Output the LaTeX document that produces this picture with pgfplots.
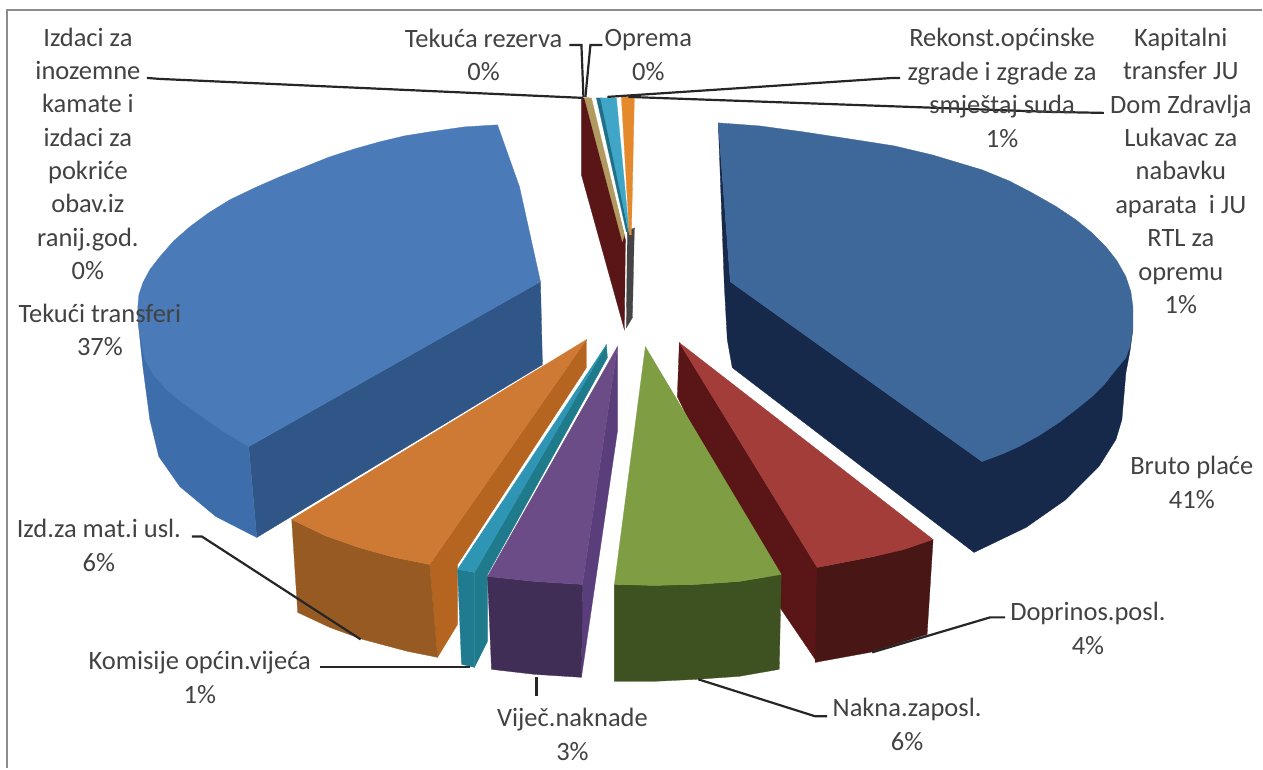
\documentclass[border=0pt]{standalone}
\usepackage{pgfplots}
\pgfplotsset{compat=1.18}
\usepackage{fontspec}
\setmainfont{Carlito}
\definecolor{txt}{HTML}{424242}
\definecolor{bruW}{HTML}{17294A}
\definecolor{bruT}{HTML}{3E6899}
\definecolor{tekI}{HTML}{2F5686}
\definecolor{tekO}{HTML}{3D6DAA}
\definecolor{tekT}{HTML}{4A7BB8}
\definecolor{redI}{HTML}{5A1616}
\definecolor{redF}{HTML}{481614}
\definecolor{redT}{HTML}{A23D3A}
\definecolor{grnF}{HTML}{3D5220}
\definecolor{grnT}{HTML}{7F9E44}
\definecolor{purI}{HTML}{5A3E7C}
\definecolor{purF}{HTML}{412E56}
\definecolor{purT}{HTML}{6B4C87}
\definecolor{teaI}{HTML}{1F7B8C}
\definecolor{teaF}{HTML}{207A90}
\definecolor{teaT}{HTML}{2F95B5}
\definecolor{orgI}{HTML}{B5651F}
\definecolor{orgF}{HTML}{975A22}
\definecolor{orgT}{HTML}{CE7A34}
\definecolor{tan}{HTML}{B09A60}
\definecolor{gry}{HTML}{444444}
\definecolor{cyaD}{HTML}{1F6F86}
\definecolor{cya}{HTML}{3FA6C8}
\definecolor{org}{HTML}{E58A2C}
\newcommand{\lab}[3]{\node[align=center,text=txt,inner sep=0pt,font=\fontsize{26.5}{33.4}\selectfont] at (axis cs:#1,#2) {#3};}
\pgfplotsset{
  face/.style={fill=#1,draw=#1,line width=0.3pt,forget plot},
  lead/.style={draw=black!85,line width=2.2pt,no markers,forget plot}
}
\begin{document}
\begin{tikzpicture}
\begin{axis}[
  scale only axis,width=1263pt,height=769pt,
  xmin=0,xmax=1263,ymin=0,ymax=769,y dir=reverse,
  hide axis,clip=false,no markers]
% page extent
\addplot[draw=none,forget plot] coordinates {(0,0) (1263,0) (1263,769) (0,769)};
% frame
\addplot[draw=black!45,line width=2.5pt,forget plot] coordinates {(7,769) (7,10) (1263,10)};
% Bruto place: walls then top
\addplot[face=bruW] coordinates {(719,123) (725,285) (728,340) (733,368) (975,553) (1027,528) (1067,500) (1100,467) (1117,440) (1123,420) (1127,373) (1131,352) (1134,330) (983,462) (731,282)} -- cycle;
\addplot[face=bruT] coordinates {(719,123) (760,126) (804,132) (850,139) (895,146) (933,155) (983,170) (1010,181) (1033,193) (1056,206) (1077,220) (1093,233) (1107,247) (1118,261) (1127,277) (1132,292) (1134,307) (1134,330) (1131,347) (1127,358) (1117,370) (1106,384) (1093,397) (1077,410) (1060,423) (1040,436) (1020,447) (1002,455) (983,462) (731,282)} -- cycle;
% Tekuci transferi
\addplot[face=tekI] coordinates {(249,447) (541,282) (543,365) (257,538)} -- cycle;
\addplot[face=tekO] coordinates {(138,320) (143,367) (150,420) (159,457) (180,487) (216,517) (257,538) (249,447) (197,413) (167,390)} -- cycle;
\addplot[face=tekT] coordinates {(498,125) (465,127) (430,132) (405,136) (380,142) (355,149) (330,157) (305,167) (280,177) (255,188) (230,200) (209,213) (190,227) (174,241) (160,257) (150,270) (143,283) (139,295) (138,307) (138,320) (140,333) (145,360) (154,376) (167,390) (181,402) (197,413) (222,431) (249,447) (541,282) (520,187)} -- cycle;
% Doprinos (dark red) goes below green
\addplot[face=redI] coordinates {(680,343) (818,568) (818,663) (782,610) (678,397)} -- cycle;
\addplot[face=redF] coordinates {(818,568) (875,557) (934,540) (928,635) (871,653) (816,663)} -- cycle;
\addplot[face=redT] coordinates {(680,343) (934,540) (905,550) (875,557) (818,568)} -- cycle;
% Green
\addplot[face=grnF] coordinates {(615,585) (655,586) (697,585) (740,582) (782,575) (780,670) (740,677) (697,680) (655,682) (615,682)} -- cycle;
\addplot[face=grnT] coordinates {(646,347) (782,575) (740,582) (697,585) (655,586) (615,585)} -- cycle;
% Orange
\addplot[face=orgI] coordinates {(430,565) (587,340) (587,368) (458,565) (458,625) (438,658)} -- cycle;
\addplot[face=orgF] coordinates {(292,520) (325,536) (359,548) (395,558) (430,565) (438,658) (408,652) (363,640) (330,628) (298,613)} -- cycle;
\addplot[face=orgT] coordinates {(587,340) (430,565) (395,558) (359,548) (325,536) (292,520)} -- cycle;
% Teal
\addplot[face=teaI] coordinates {(475,573) (607,345) (608,358) (488,575) (488,642) (475,668)} -- cycle;
\addplot[face=teaF] coordinates {(458,570) (475,573) (475,668) (462,665)} -- cycle;
\addplot[face=teaT] coordinates {(607,345) (475,573) (458,570)} -- cycle;
% Purple
\addplot[face=purI] coordinates {(618,347) (618,432) (582,678) (583,585)} -- cycle;
\addplot[face=purF] coordinates {(488,577) (535,582) (583,585) (582,678) (535,675) (492,670)} -- cycle;
\addplot[face=purT] coordinates {(618,347) (583,585) (535,582) (488,577)} -- cycle;
% Small slices at the top
\addplot[face=redI] coordinates {(582,98) (582,175) (625,330) (626,240) (590,98)} -- cycle;
\addplot[face=tan] coordinates {(585,98) (592,98) (625,235) (623,242)} -- cycle;
\addplot[face=gry] coordinates {(628,232) (635,228) (633,318) (627,328)} -- cycle;
\addplot[face=cyaD] coordinates {(597,98) (603,98) (629,232) (627,232)} -- cycle;
\addplot[face=cya] coordinates {(601,98) (617,98) (630,235)} -- cycle;
\addplot[face=org] coordinates {(622,97) (635,97) (632,235) (630,235)} -- cycle;
% leader lines
\addplot[lead] coordinates {(147,78) (160,79) (584,98)};
\addplot[lead] coordinates {(570,45) (582,45) (584,97)};
\addplot[lead] coordinates {(603,45) (591,45) (586,97)};
\addplot[lead] coordinates {(901,78) (894,78) (608,97)};
\addplot[lead] coordinates {(1105,113) (1051,112) (629,97)};
\addplot[lead] coordinates {(192,537) (202,537) (361,640)};
\addplot[lead] coordinates {(320,668) (470,668)};
\addplot[lead] coordinates {(537,678) (537,697)};
\addplot[lead] coordinates {(699,680) (816,717) (828,717)};
\addplot[lead] coordinates {(873,653) (991,618) (1006,618)};
% labels
\lab{88}{154}{Izdaci za\\inozemne\\kamate i\\izdaci za\\pokriće\\obav.iz\\ranij.god.\\0\%}
\lab{100}{330}{Tekući transferi\\37\%}
\lab{484}{55}{Tekuća rezerva\\0\%}
\lab{649}{55}{Oprema\\0\%}
\lab{1003}{88}{Rekonst.općinske\\zgrade i zgrade za\\smještaj suda\\1\%}
\lab{1182}{171}{Kapitalni\\transfer JU\\Dom Zdravlja\\Lukavac za\\nabavku\\aparata\ \ i JU\\RTL za\\opremu\\1\%}
\lab{1193}{483}{Bruto plaće\\41\%}
\lab{1089}{629}{Doprinos.posl.\\4\%}
\lab{908}{725}{Nakna.zaposl.\\6\%}
\lab{573}{735}{Viječ.naknade\\3\%}
\lab{200}{678}{Komisije općin.vijeća\\1\%}
\lab{99}{546}{Izd.za mat.i usl.\\6\%}
\end{axis}
\end{tikzpicture}
\end{document}
